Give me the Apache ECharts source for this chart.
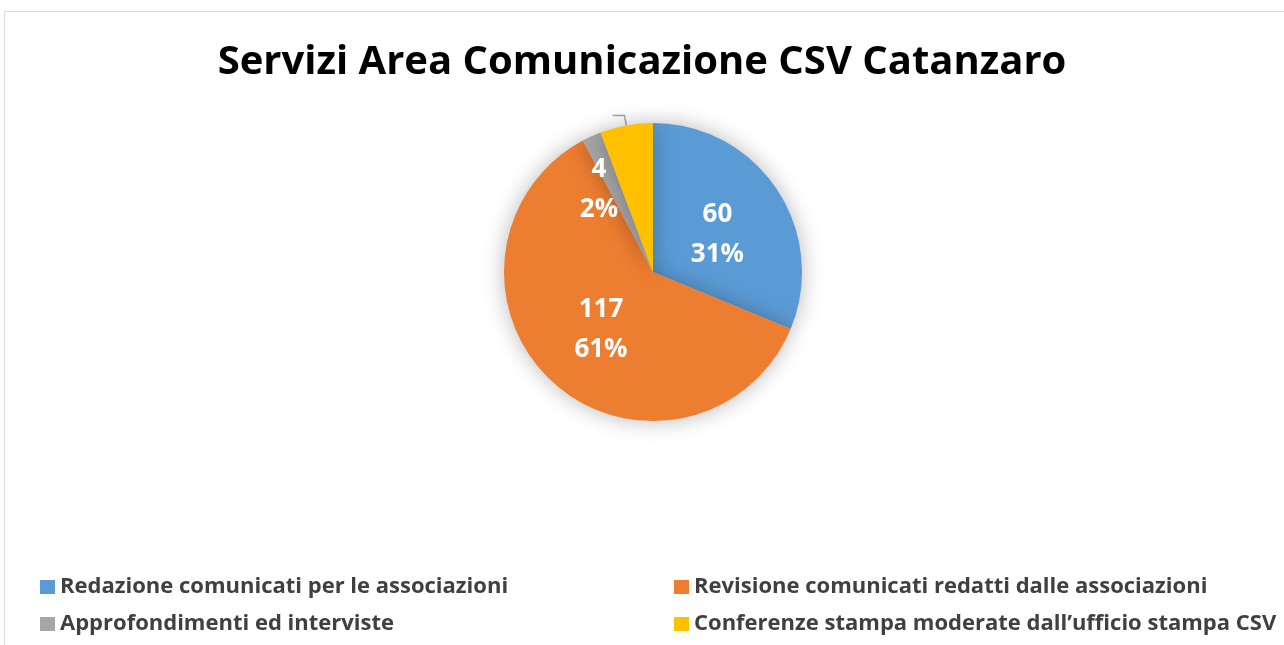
<!DOCTYPE html>
<html>
<head>
<meta charset="utf-8">
<script src="https://cdn.jsdelivr.net/npm/echarts@6/dist/echarts.min.js"></script>
<style>
  html, body { margin: 0; padding: 0; background: #fff; }
  .main { width: 1284px; height: 645px; }
  .frame { position: absolute; left: 4px; top: 11px; width: 1300px; height: 700px; border: 1px solid #d9d9d9; box-sizing: border-box; pointer-events: none; }
</style>
</head>
<body>
<div class="main"></div>
<div class="frame"></div>
<script>
var categories = [
    'Redazione comunicati per le associazioni',
    'Revisione comunicati redatti dalle associazioni',
    'Approfondimenti ed interviste',
    'Conferenze stampa moderate dall\u2019ufficio stampa CSV'
];
var values = [60, 117, 4, 11];
var colors = ['#5b9bd5', '#ed7d31', '#a5a5a5', '#ffc000'];

var myChart = echarts.init(document.querySelector('.main'));

// big slices keep the label inside, the small yellow one goes outside
var labelOffsets = [[0, 6], [0, 0], [-22, -12]];
var pieData = categories.map(function (name, i) {
    var item = { name: name, value: values[i] };
    if (i < 3) {
        item.label = { position: 'inside', offset: labelOffsets[i] };
    } else {
        // two empty lines under the text lift it above the leader line end
        item.label = { formatter: '{c}\n{d}%\n\n' };
    }
    return item;
});

var legendText = {
    color: '#404040',
    fontSize: 22,
    fontWeight: 'bold',
    fontFamily: 'Open Sans'
};

option = {
    color: colors,
    title: {
        text: 'Servizi Area Comunicazione CSV Catanzaro',
        left: 'center',
        top: 38,
        z: 10,
        textStyle: {
            color: '#000',
            fontSize: 40,
            fontWeight: 'bold',
            fontFamily: 'Open Sans'
        }
    },
    legend: [{
        data: [categories[0], categories[2]],
        orient: 'vertical',
        left: 40,
        top: 576,
        padding: 0,
        itemWidth: 15,
        itemHeight: 14,
        itemGap: 15,
        icon: 'rect',
        textStyle: legendText
    }, {
        data: [categories[1], categories[3]],
        orient: 'vertical',
        left: 674,
        top: 576,
        padding: 0,
        itemWidth: 15,
        itemHeight: 14,
        itemGap: 15,
        icon: 'rect',
        textStyle: legendText
    }],
    series: [{
        type: 'pie',
        center: [653, 272],
        radius: 149,
        startAngle: 90,
        percentPrecision: 0,
        avoidLabelOverlap: false,
        labelLayout: { hideOverlap: false },
        data: pieData,
        itemStyle: {
            shadowBlur: 22,
            shadowColor: 'rgba(0,0,0,0.28)',
            borderWidth: 0
        },
        label: {
            show: true,
            position: 'outside',
            formatter: '{c}\n{d}%',
            color: '#fff',
            fontSize: 26,
            fontWeight: 'bold',
            fontFamily: 'Open Sans',
            lineHeight: 40,
            distanceToLabelLine: 7
        },
        labelLine: {
            show: true,
            length: 10,
            length2: 12,
            lineStyle: { color: '#a6a6a6', width: 1.5 }
        },
        emphasis: { scale: false }
    }]
};

myChart.setOption(option);
</script>
</body>
</html>
